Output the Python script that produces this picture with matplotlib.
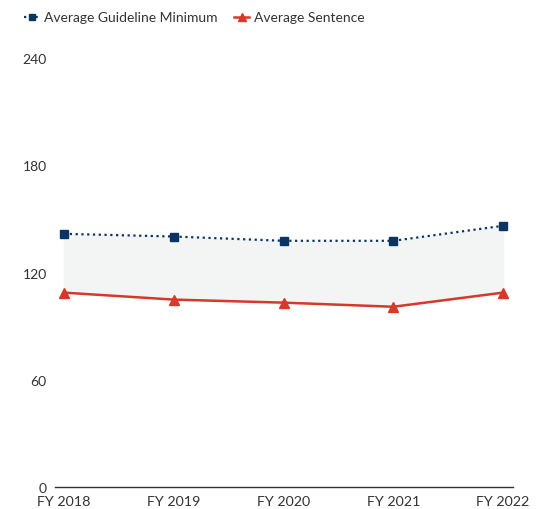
import matplotlib.pyplot as plt
import numpy as np

plt.rcParams['font.family'] = ['Lato', 'DejaVu Sans']

years = ['FY 2018', 'FY 2019', 'FY 2020', 'FY 2021', 'FY 2022']
guideline_min = [141.7, 140.2, 137.8, 137.8, 146.2]
avg_sentence = [108.8, 104.9, 103.2, 100.9, 108.8]
yticks = [0, 60, 120, 180, 240]

navy = '#0b3463'
red = '#d6382a'

fig = plt.figure(figsize=(5.45, 5.10), dpi=100)
ax = fig.add_axes([0.101, 0.043, 0.84, 0.841])
x = np.arange(len(years))

ax.fill_between(x, avg_sentence, guideline_min, color='#f3f5f5', zorder=1)
ax.plot(x, guideline_min, color=navy, linestyle=(0, (1, 1.6)), linewidth=1.6,
        marker='s', markersize=6, label='Average Guideline Minimum', zorder=3)
ax.plot(x, avg_sentence, color=red, linewidth=1.8, marker='^', markersize=7,
        label='Average Sentence', zorder=3)

ax.set_xlim(-0.082, 4.09)
ax.set_ylim(0, 240)
ax.set_yticks(yticks)
ax.set_xticks(x)
ax.set_xticklabels(years, fontsize=10.3, color='#333333')
ax.tick_params(axis='y', length=0, pad=6, labelsize=10, labelcolor='#333333')
ax.tick_params(axis='x', length=0, pad=6)
for s in ['top', 'right', 'left']:
    ax.spines[s].set_visible(False)
ax.spines['bottom'].set_color('#333333')
ax.spines['bottom'].set_linewidth(1)

leg = fig.legend(loc='upper left', bbox_to_anchor=(0.022, 1.0), ncol=2, frameon=False,
                 fontsize=10, handlelength=1.1, handletextpad=0.3, columnspacing=1.2,
                 markerscale=0.75)
for t in leg.get_texts():
    t.set_color('#333333')

fig.savefig('out.png', dpi=100)
